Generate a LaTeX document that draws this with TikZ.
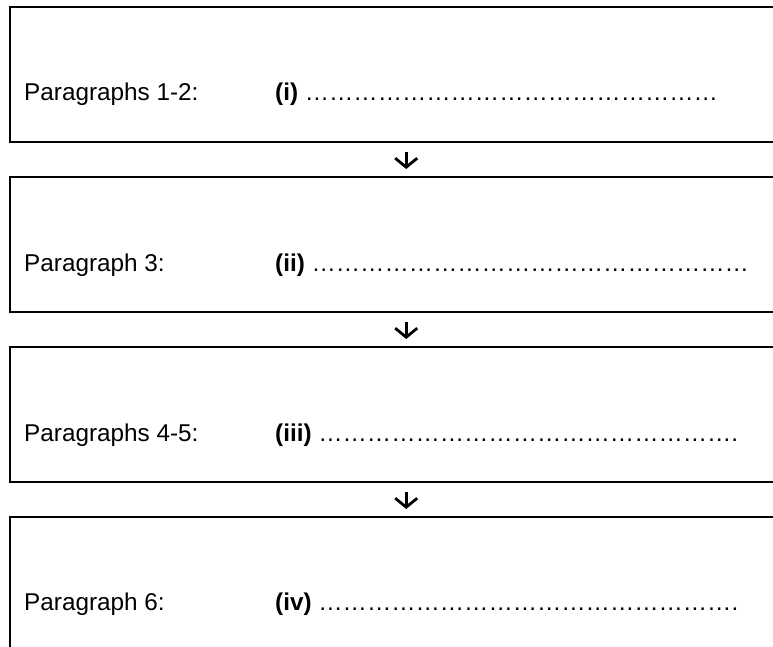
\documentclass[tikz,border=0pt]{standalone}
\usepackage{fontspec}
\setmainfont{Liberation Sans}
\usetikzlibrary{arrows.meta}
\begin{document}
\begin{tikzpicture}[x=1pt,y=1pt,
  box/.style={draw, line width=2.4pt, rectangle, minimum width=792pt, minimum height=135pt, inner sep=0pt, anchor=north west},
  lbl/.style={anchor=base west, inner sep=0pt, font=\fontsize{24.3}{28}\selectfont},
  flow/.style={line width=2.8pt, -{Straight Barb[length=9pt,width=22pt,line width=2.8pt]}, shorten <=9pt, shorten >=7pt}]
\useasboundingbox (0,0) rectangle (773,-647);
\clip (0,0) rectangle (773,-647);
\node[box] (b1) at (9,-6) {};
\node[box] (b2) at (9,-176) {};
\node[box] (b3) at (9,-346) {};
\node[box] (b4) at (9,-516) {};
\draw[flow] (b1.south) -- (b2.north);
\draw[flow] (b2.south) -- (b3.north);
\draw[flow] (b3.south) -- (b4.north);
\node[lbl] (p1) at (24,-101) {Paragraphs 1-2:};
\node[lbl] (p2) at (24,-271) {Paragraph 3:};
\node[lbl] (p3) at (24,-441) {Paragraphs 4-5:};
\node[lbl] (p4) at (24,-610) {Paragraph 6:};
\node[lbl] (q1) at (275,-101) {\textbf{(i)} ……………………………………………};
\node[lbl] (q2) at (275,-271) {\textbf{(ii)} ………………………………………………};
\node[lbl] (q3) at (275,-441) {\textbf{(iii)} …………………………………………….};
\node[lbl] (q4) at (275,-610) {\textbf{(iv)} …………………………………………….};
\end{tikzpicture}
\end{document}
